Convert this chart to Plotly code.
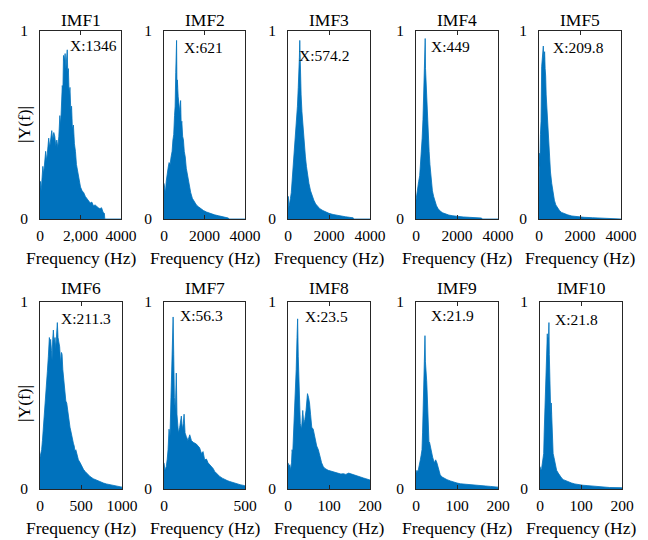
import plotly.graph_objects as go

# ---------------- data ----------------
titles = ["IMF1", "IMF2", "IMF3", "IMF4", "IMF5", "IMF6", "IMF7", "IMF8", "IMF9", "IMF10"]
peak_freq = [1346, 621, 574.2, 449, 209.8, 211.3, 56.3, 23.5, 21.9, 21.8]
peak_text = ["X:1346", "X:621", "X:574.2", "X:449", "X:209.8", "X:211.3", "X:56.3", "X:23.5", "X:21.9", "X:21.8"]
label_y = [0.925, 0.91, 0.87, 0.915, 0.91, 0.914, 0.93, 0.92, 0.93, 0.904]

x_max = [4000, 4000, 4000, 4000, 4000, 1000, 500, 200, 200, 200]
x_tickvals = [[0, 2000, 4000]] * 5 + [[0, 500, 1000], [0, 500], [0, 100, 200], [0, 100, 200], [0, 100, 200]]
x_ticktext = [["0", "2,000", "4000"]] + [["0", "2000", "4000"]] * 4 + [["0", "500", "1000"], ["0", "500"],
              ["0", "100", "200"], ["0", "100", "200"], ["0", "100", "200"]]

f1 = [0, 20, 60, 100, 140, 180, 230, 280, 330, 380, 430, 480, 530, 580, 630, 680, 730, 780, 830, 880,
      930, 980, 1020, 1060, 1100, 1130, 1160, 1200, 1240, 1280, 1320, 1346, 1370, 1400, 1440, 1480, 1520, 1560, 1600, 1650,
      1700, 1750, 1800, 1850, 1900, 1950, 2000, 2080, 2160, 2240, 2320, 2400, 2480, 2560, 2640, 2720, 2800, 2880, 2960, 3040,
      3120, 3180, 3200, 3220, 4000]
a1 = [0.17, 0.2, 0.15, 0.22, 0.28, 0.24, 0.33, 0.36, 0.31, 0.40, 0.43, 0.38, 0.45, 0.47, 0.42, 0.46, 0.44, 0.39, 0.42, 0.38,
      0.44, 0.55, 0.50, 0.64, 0.71, 0.68, 0.87, 0.84, 0.88, 0.80, 0.86, 0.90, 0.78, 0.80, 0.66, 0.70, 0.58, 0.60, 0.48, 0.50,
      0.40, 0.36, 0.29, 0.26, 0.23, 0.20, 0.17, 0.15, 0.14, 0.12, 0.11, 0.10, 0.085, 0.09, 0.07, 0.075, 0.065, 0.06, 0.055, 0.06,
      0.035, 0.03, 0.0, 0.0, 0.0]

f2 = [0, 30, 70, 110, 160, 200, 250, 300, 350, 400, 440, 480, 520, 550, 580, 600, 621, 640, 660, 700,
      740, 780, 820, 850, 880, 920, 960, 1000, 1050, 1100, 1150, 1200, 1260, 1320, 1400, 1500, 1600, 1700, 1800, 1950,
      2100, 2300, 2500, 2700, 2900, 3100, 3180, 3200, 4000]
a2 = [0.19, 0.17, 0.14, 0.2, 0.25, 0.27, 0.3, 0.29, 0.33, 0.36, 0.42, 0.45, 0.55, 0.6, 0.78, 0.88, 0.95, 0.7, 0.74, 0.65,
      0.6, 0.57, 0.63, 0.5, 0.52, 0.44, 0.42, 0.36, 0.33, 0.27, 0.24, 0.19, 0.16, 0.14, 0.11, 0.09, 0.075, 0.065, 0.055, 0.045,
      0.037, 0.028, 0.022, 0.017, 0.013, 0.008, 0.005, 0.0, 0.0]

f3 = [0, 15, 40, 80, 120, 160, 200, 250, 300, 340, 380, 420, 460, 500, 530, 555, 574.2, 590, 610, 640,
      680, 720, 760, 800, 850, 900, 960, 1020, 1100, 1180, 1260, 1350, 1450, 1550, 1700, 1850, 2000, 2200, 2400, 2600,
      2800, 3000, 3180, 3200, 4000]
a3 = [0.10, 0.12, 0.06, 0.08, 0.11, 0.14, 0.2, 0.26, 0.33, 0.39, 0.46, 0.53, 0.6, 0.7, 0.76, 0.86, 0.95, 0.82, 0.76, 0.66,
      0.57, 0.5, 0.44, 0.39, 0.33, 0.28, 0.23, 0.19, 0.15, 0.12, 0.1, 0.08, 0.065, 0.055, 0.045, 0.037, 0.03, 0.024, 0.019, 0.015,
      0.012, 0.009, 0.006, 0.0, 0.0]

f4 = [0, 30, 80, 130, 180, 220, 260, 300, 340, 370, 400, 420, 440, 449, 465, 490, 520, 560, 600, 640,
      680, 720, 760, 800, 860, 920, 1000, 1080, 1180, 1300, 1450, 1600, 1800, 2000, 2300, 2600, 2900, 3200, 3220, 4000]
a4 = [0.1, 0.13, 0.16, 0.2, 0.23, 0.29, 0.35, 0.43, 0.53, 0.62, 0.74, 0.8, 0.84, 0.96, 0.8, 0.72, 0.64, 0.53, 0.44, 0.36,
      0.29, 0.24, 0.19, 0.15, 0.12, 0.095, 0.07, 0.055, 0.042, 0.033, 0.026, 0.021, 0.017, 0.014, 0.011, 0.009, 0.007, 0.005, 0.0, 0.0]

f5 = [0, 15, 40, 70, 100, 130, 160, 190, 209.8, 230, 255, 275, 300, 325, 350, 380, 420, 460, 500, 560,
      620, 680, 750, 820, 900, 1000, 1100, 1250, 1400, 1600, 1900, 2200, 2600, 3000, 3220, 3230, 4000]
a5 = [0.1, 0.35, 0.28, 0.45, 0.52, 0.81, 0.85, 0.88, 0.92, 0.85, 0.87, 0.89, 0.8, 0.76, 0.66, 0.6, 0.49, 0.4, 0.33, 0.25,
      0.19, 0.14, 0.1, 0.075, 0.058, 0.045, 0.035, 0.027, 0.022, 0.016, 0.012, 0.009, 0.007, 0.005, 0.004, 0.0, 0.0]

f6 = [0, 8, 20, 30, 41, 50, 61, 70, 81, 90, 102, 114, 122, 130, 140, 147, 155, 163, 172, 183,
      192, 204, 211.3, 220, 230, 240, 252, 262, 269, 278, 285, 295, 305, 315, 326, 336, 346, 356, 366, 376,
      387, 397, 407, 417, 427, 437, 448, 458, 468, 490, 509, 530, 550, 580, 610, 650, 692, 730, 773, 810,
      855, 900, 936, 970, 1000]
a6 = [0.17, 0.19, 0.21, 0.26, 0.32, 0.37, 0.46, 0.5, 0.58, 0.63, 0.71, 0.81, 0.78, 0.80, 0.74, 0.69, 0.8, 0.85, 0.78, 0.81,
      0.75, 0.88, 0.89, 0.81, 0.77, 0.76, 0.67, 0.73, 0.72, 0.64, 0.6, 0.54, 0.49, 0.47, 0.46, 0.42, 0.40, 0.36, 0.33, 0.31,
      0.28, 0.26, 0.245, 0.23, 0.2, 0.21, 0.19, 0.17, 0.156, 0.14, 0.12, 0.105, 0.094, 0.08, 0.067, 0.055, 0.046, 0.038, 0.032, 0.027,
      0.023, 0.018, 0.014, 0.012, 0.01]

f7 = [0, 3, 6, 10, 14, 20, 25, 31, 37, 43, 49, 53, 56.3, 60, 64, 70, 76, 80, 89, 97,
      107, 113, 119, 124, 130, 138, 148, 159, 169, 180, 190, 200, 210, 220, 231, 241, 251, 262, 272, 283,
      293, 303, 313, 328, 344, 360, 375, 390, 406, 426, 447, 470, 498, 500]
a7 = [0.14, 0.12, 0.10, 0.11, 0.12, 0.16, 0.21, 0.32, 0.28, 0.49, 0.64, 0.81, 0.92, 0.72, 0.49, 0.42, 0.62, 0.40, 0.30, 0.33,
      0.39, 0.32, 0.35, 0.40, 0.30, 0.28, 0.26, 0.29, 0.26, 0.25, 0.245, 0.24, 0.23, 0.22, 0.19, 0.2, 0.156, 0.16, 0.14, 0.13,
      0.12, 0.11, 0.094, 0.08, 0.067, 0.058, 0.05, 0.045, 0.04, 0.034, 0.028, 0.023, 0.018, 0.017]

f8 = [0, 2.5, 4.5, 6.6, 8.5, 10, 11.5, 13, 14.5, 16, 18, 20, 22, 23.5, 25, 26.5, 28, 30, 33, 36,
      38.5, 41, 44, 46, 47.5, 50, 52.5, 55, 58, 61.5, 65.6, 70, 74, 78, 82, 86, 90, 98, 105, 111,
      117, 123, 129, 135, 141, 148, 154, 160, 166, 172, 178, 184, 190, 197, 200]
a8 = [0.14, 0.12, 0.13, 0.10, 0.14, 0.21, 0.19, 0.26, 0.3, 0.42, 0.52, 0.64, 0.81, 0.91, 0.71, 0.6, 0.49, 0.35, 0.32, 0.42,
      0.35, 0.37, 0.42, 0.47, 0.51, 0.49, 0.46, 0.40, 0.33, 0.32, 0.28, 0.23, 0.21, 0.17, 0.14, 0.12, 0.11, 0.10, 0.095, 0.094,
      0.09, 0.085, 0.08, 0.082, 0.078, 0.085, 0.08, 0.076, 0.07, 0.067, 0.063, 0.059, 0.055, 0.05, 0.048]

f9 = [0, 2.4, 4.5, 6.5, 8.5, 10.6, 12.5, 14.6, 16, 17, 18.5, 19.5, 21, 21.9, 23, 24.4, 26, 27, 28, 29,
      30.5, 31.7, 33, 35, 37.4, 40.6, 44.7, 48, 51, 55, 59, 63, 67.5, 72, 75.6, 84, 92, 100, 108, 120,
      132, 145, 157, 170, 181, 190, 198, 200]
a9 = [0.085, 0.10, 0.09, 0.12, 0.13, 0.156, 0.18, 0.21, 0.3, 0.39, 0.45, 0.55, 0.6, 0.82, 0.68, 0.65, 0.58, 0.53, 0.45, 0.40,
      0.3, 0.245, 0.25, 0.23, 0.19, 0.17, 0.14, 0.156, 0.14, 0.10, 0.076, 0.065, 0.059, 0.055, 0.05, 0.043, 0.036, 0.032, 0.028, 0.025,
      0.023, 0.02, 0.018, 0.016, 0.014, 0.012, 0.01, 0.01]

f10 = [0, 2.4, 4, 5.7, 7.5, 9, 10.2, 11.3, 12.5, 13.8, 15, 16.2, 17, 17.8, 18.6, 19.4, 20.2, 21, 21.8, 22.7,
       24, 25, 26.2, 27.5, 29, 30.5, 32, 34, 36, 38, 40.5, 44.5, 48.5, 52.6, 57, 60.8, 69, 77, 85, 93,
       105, 117, 133, 150, 170, 198, 200]
a10 = [0.12, 0.10, 0.11, 0.14, 0.17, 0.19, 0.3, 0.39, 0.45, 0.53, 0.58, 0.65, 0.74, 0.83, 0.77, 0.81, 0.75, 0.85, 0.89, 0.72,
       0.6, 0.49, 0.4, 0.46, 0.32, 0.27, 0.19, 0.17, 0.14, 0.12, 0.10, 0.085, 0.07, 0.059, 0.05, 0.046, 0.038, 0.032, 0.027, 0.023,
       0.02, 0.018, 0.014, 0.01, 0.008, 0.007, 0.007]

freqs = [f1, f2, f3, f4, f5, f6, f7, f8, f9, f10]
amps = [a1, a2, a3, a4, a5, a6, a7, a8, a9, a10]

# ---------------- layout (pixels) ----------------
W, H = 648, 540
cols_px = [[(40, 121), (164, 245), (288, 370), (416, 498), (539, 621)],
           [(40, 122), (164, 245), (288, 370), (416, 498), (540, 622)]]
rows_px = [(31, 219), (302, 489)]
title_y_px = [20, 288]
xlabel_y_px = [258, 528]
ylabel_y_px = [125, 404]
label_xshift = [1, 5, -3, 4, 8, 2, 5, 5, 4, 4]

BLUE = "#0072BD"
AX = "#262626"
FONT = "Liberation Serif, Times New Roman, serif"

fig = go.Figure()
annotations = []
layout = {}

for i in range(10):
    r, c = divmod(i, 5)
    x0, x1 = cols_px[r][c]
    y0, y1 = rows_px[r]
    n = i + 1
    xa = "x" if n == 1 else f"x{n}"
    ya = "y" if n == 1 else f"y{n}"
    fig.add_trace(go.Scatter(
        x=freqs[i], y=amps[i], mode="lines", fill="tozeroy",
        line=dict(color=BLUE, width=0.8), fillcolor=BLUE,
        xaxis=xa, yaxis=ya, showlegend=False, hoverinfo="skip"))
    common = dict(showline=True, linecolor=AX, linewidth=0.8, mirror="ticks",
                  ticks="inside", ticklen=4, tickwidth=0.8, tickcolor=AX,
                  showgrid=False, zeroline=False, automargin=False,
                  tickfont=dict(family=FONT, size=15.5, color="black"))
    layout["xaxis" if n == 1 else f"xaxis{n}"] = dict(
        domain=[x0 / W, x1 / W], range=[0, x_max[i]], anchor=ya,
        tickvals=x_tickvals[i], ticktext=x_ticktext[i], ticklabelstandoff=2, **common)
    layout["yaxis" if n == 1 else f"yaxis{n}"] = dict(
        domain=[1 - y1 / H, 1 - y0 / H], range=[0, 1], anchor=xa,
        tickvals=[0, 1], ticktext=["0", "1"], ticklabelstandoff=8, **common)
    cx = (x0 + x1) / 2 / W
    annotations.append(dict(text=titles[i], x=cx, y=1 - title_y_px[r] / H, xref="paper", yref="paper",
                            xanchor="center", yanchor="middle", showarrow=False,
                            font=dict(family=FONT, size=17.5, color="black")))
    annotations.append(dict(text="Frequency (Hz)", x=cx, y=1 - xlabel_y_px[r] / H, xref="paper", yref="paper",
                            xanchor="center", yanchor="middle", showarrow=False,
                            font=dict(family=FONT, size=17.5, color="black")))
    annotations.append(dict(text=peak_text[i], x=peak_freq[i], y=label_y[i], xref=xa, yref=ya,
                            xanchor="left", yanchor="middle", xshift=label_xshift[i], showarrow=False,
                            font=dict(family=FONT, size=15.5, color="black")))

for r in range(2):
    annotations.append(dict(text="|Y(f)|", x=24 / W, y=1 - ylabel_y_px[r] / H, xref="paper", yref="paper",
                            xanchor="center", yanchor="middle", textangle=-90, showarrow=False,
                            font=dict(family=FONT, size=17.5, color="black")))

fig.update_layout(width=W, height=H,
                  margin=dict(l=0, r=0, t=0, b=0, pad=0, autoexpand=False),
                  paper_bgcolor="white", plot_bgcolor="white",
                  annotations=annotations, **layout)

fig.write_html("out.html")
